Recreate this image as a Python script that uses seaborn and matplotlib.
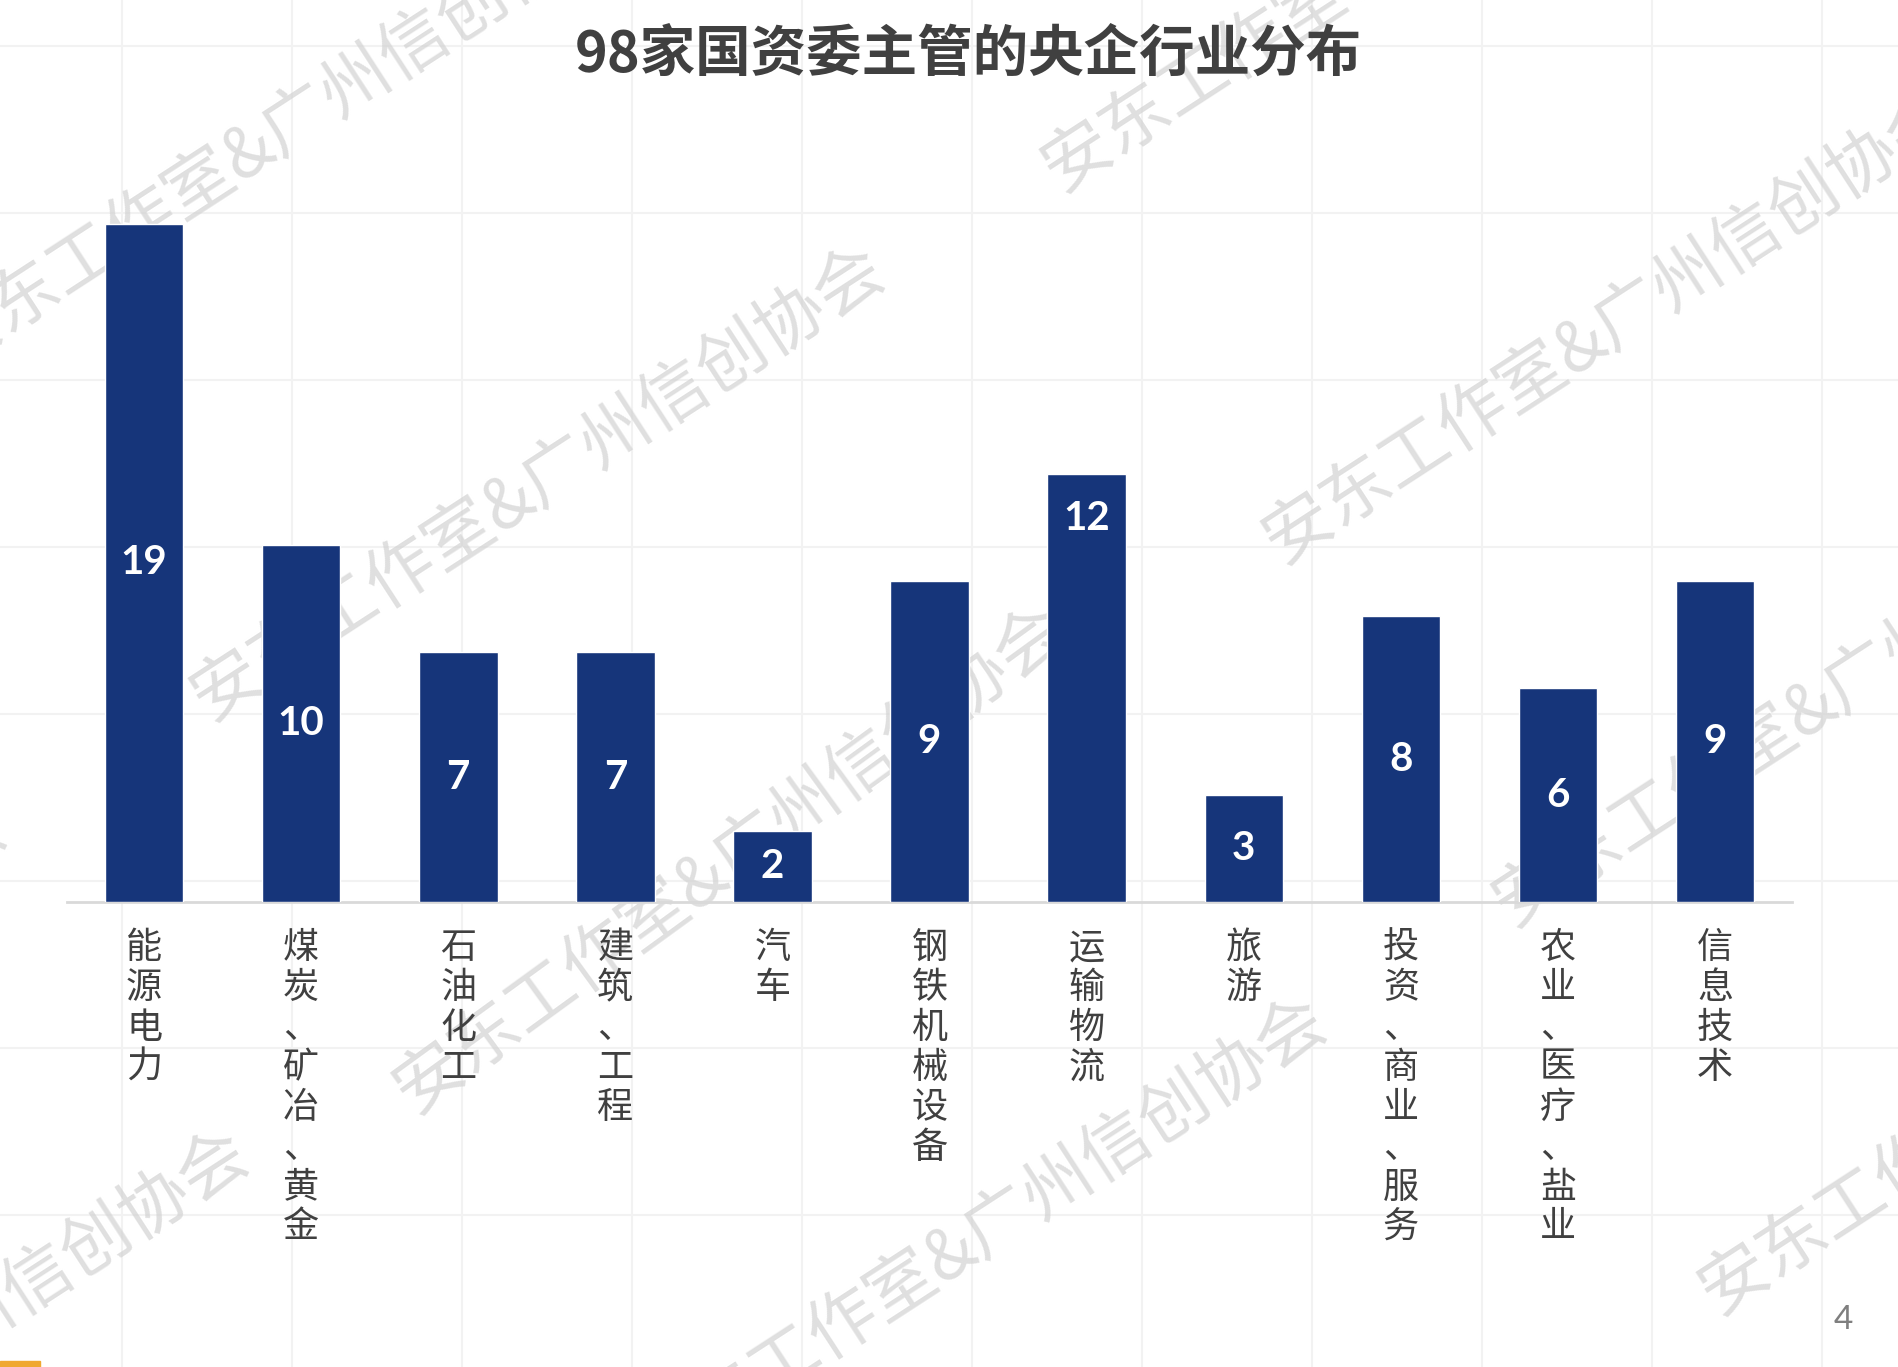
import seaborn as sns
import matplotlib.pyplot as plt
import pandas as pd
from matplotlib.patches import Rectangle
from matplotlib.lines import Line2D

# industry categories and number of central SOEs in each
categories = ['能源电力', '煤炭、矿冶、黄金', '石油化工', '建筑、工程', '汽车', '钢铁机械设备',
              '运输物流', '旅游', '投资、商业、服务', '农业、医疗、盐业', '信息技术']
counts = [19, 10, 7, 7, 2, 9, 12, 3, 8, 6, 9]
# where the number sits inside the bar
label_spot = ['mid', 'mid', 'mid', 'mid', 'mid', 'mid', 'top', 'mid', 'mid', 'mid', 'mid']

title = '98家国资委主管的央企行业分布'
watermark = '安东工作室&广州信创协会'

df = pd.DataFrame({'industry': categories, 'count': counts})

sns.set_theme(style='white')
plt.rcParams['font.family'] = ['Noto Sans CJK SC', 'DejaVu Sans']

fig = plt.figure(figsize=(18.99, 13.67), dpi=100)
fig.patch.set_facecolor('white')

# faint slide background grid
for gx in range(122, 1899, 170):
    fig.add_artist(Line2D([gx / 1899, gx / 1899], [0, 1], color='#f2f2f2', lw=1.5, zorder=-3))
for gy in range(46, 1367, 167):
    fig.add_artist(Line2D([0, 1], [1 - gy / 1367, 1 - gy / 1367], color='#f2f2f2', lw=1.5, zorder=-3))

ax = fig.add_axes([0.0353, 0.340, 0.9084, 0.543])
ax.set_facecolor('none')

sns.barplot(data=df, x='industry', y='count', color='#16357a', width=0.5,
            saturation=1, ax=ax, zorder=3)

# value labels inside each bar
for i, (v, spot) in enumerate(zip(counts, label_spot)):
    y = v - 1.25 if spot == 'top' else v / 2
    ax.text(i, y, str(v), ha='center', va='center', color='white',
            fontsize=29, fontweight='bold', family=['Lato', 'DejaVu Sans'], zorder=4)

ax.set_xlim(-0.49, 10.49)
ax.set_ylim(0, 20.78)
ax.set_yticks([])
ax.set_xlabel('')
ax.set_ylabel('')
for s in ['top', 'right', 'left']:
    ax.spines[s].set_visible(False)
ax.spines['bottom'].set_color('#d9d9d9')
ax.spines['bottom'].set_linewidth(2)
ax.spines['bottom'].set_zorder(2)

ax.set_xticks(range(len(categories)))
ax.set_xticklabels(['\n'.join(list(c)) for c in categories], fontsize=26,
                   color='#404040', va='top', linespacing=1.14)
ax.tick_params(axis='x', length=0, pad=20)

fig.text(0.510, 0.960, title, ha='center', va='center', fontsize=40,
         fontweight='black', color='#404040')

# faint diagonal watermarks behind the bars
wm_centers = [(279, 133), (539, 484), (1390, -45), (1611, 327), (730, 860),
              (981, 1235), (-339, 1041), (-97, 1368), (1841, 690), (2047, 1078)]
wm_angles = [33, 33, 33, 33, 36, 33, 33, 33, 33, 33]
for (cx, cy), ang in zip(wm_centers, wm_angles):
    fig.text(cx / 1899, 1 - cy / 1367, watermark, ha='center', va='center',
             rotation=ang, rotation_mode='anchor', fontsize=50, color='#d2d2d2',
             alpha=0.7, zorder=-1)

# page number and orange corner mark
fig.text(1843 / 1899, 1 - 1320 / 1367, '4', ha='center', va='center',
         fontsize=24, color='#7f7f7f', family=['Lato', 'DejaVu Sans'])
fig.patches.append(Rectangle((0, 0), 40 / 1899, 6 / 1367, transform=fig.transFigure,
                             color='#f0a830', figure=fig))

fig.savefig('out.png', dpi=100)
